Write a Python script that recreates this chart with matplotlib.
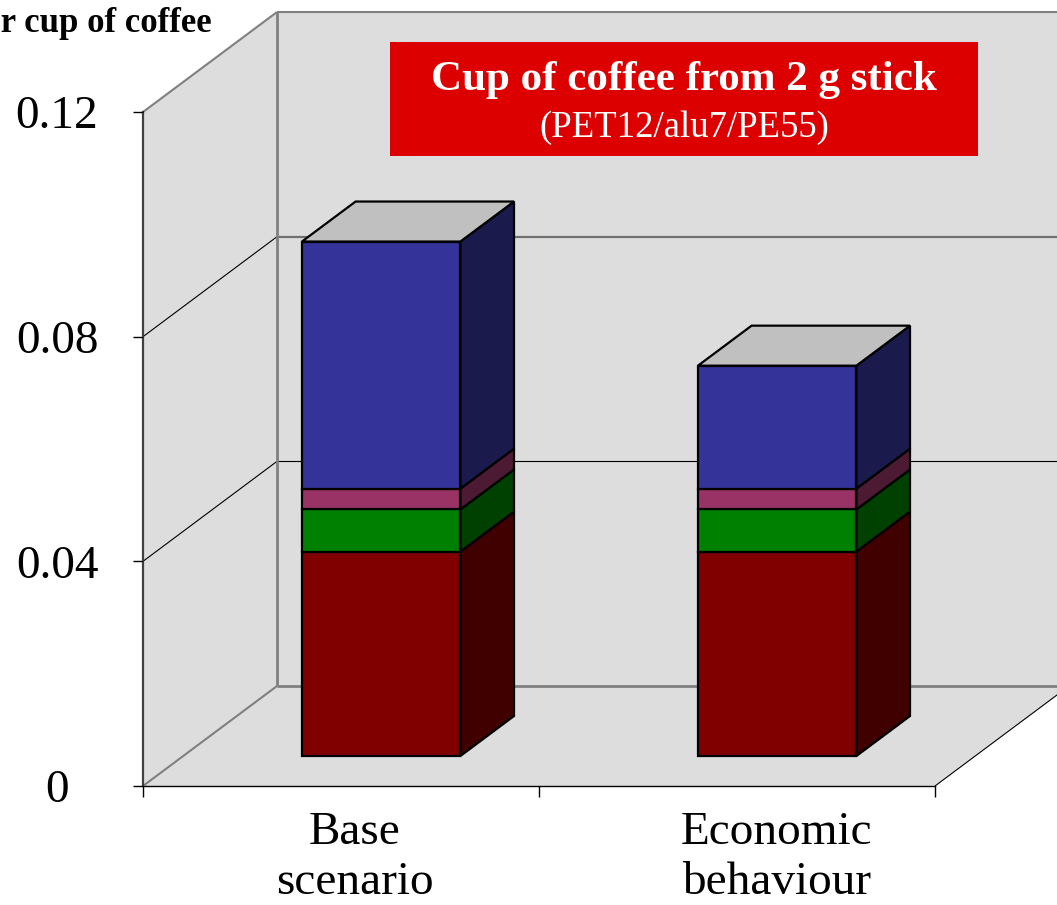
import matplotlib.pyplot as plt
from matplotlib.patches import Polygon, Rectangle

plt.rcParams['font.family'] = ['Liberation Serif', 'DejaVu Serif']

scenarios = ['Base\nscenario', 'Economic\nbehaviour']
# stacked contributions per scenario, bottom to top
red_part = [0.0364, 0.0364]
green_part = [0.0075, 0.0075]
pink_part = [0.0037, 0.0037]
blue_part = [0.0440, 0.0219]
stack = [red_part, green_part, pink_part, blue_part]

front_colors = ['#800000', '#008000', '#993366', '#333399']
side_colors = ['#400000', '#004000', '#4d1a33', '#1a1a4d']
top_color = '#c0c0c0'
wall_color = '#dddddd'
edge_gray = '#808080'

yticks = [0, 0.04, 0.08, 0.12]
ytick_labels = ['0', '0.04', '0.08', '0.12']

fig = plt.figure(figsize=(10.57, 9.05), dpi=100)
ax = fig.add_axes([143 / 1057, 119 / 905, 792 / 1057, 674 / 905])
ax.set_xlim(0, 2)
ax.set_ylim(0, 0.12)
ax.patch.set_visible(False)

# oblique depth vector expressed in front-plane data units
dx, dy = 0.3384, 0.0178
ymax = 0.12
xmax = 2


def proj(x, y, d):
    return (x + d * dx, y + d * dy)


def seg(p, q, **kw):
    ax.plot([p[0], q[0]], [p[1], q[1]], clip_on=False, solid_capstyle='butt', **kw)


# floor, side wall and back wall
ax.add_patch(Polygon([proj(0, 0, 0), proj(xmax, 0, 0), proj(xmax, 0, 1), proj(0, 0, 1)],
                     fc=wall_color, ec='none', clip_on=False, zorder=0.5))
ax.add_patch(Polygon([proj(0, 0, 0), proj(0, ymax, 0), proj(0, ymax, 1), proj(0, 0, 1)],
                     fc=wall_color, ec='none', clip_on=False, zorder=0.5))
ax.add_patch(Polygon([proj(0, 0, 1), proj(xmax, 0, 1), proj(xmax, ymax, 1), proj(0, ymax, 1)],
                     fc=wall_color, ec='none', clip_on=False, zorder=0.5))

# gridlines across side and back walls
grid_styles = {0.04: ('black', 0.8), 0.08: ('#707070', 1.6)}
for yv, (gc, glw) in grid_styles.items():
    seg(proj(0, yv, 0), proj(0, yv, 1), color='black', lw=0.8, zorder=0.7)
    seg(proj(0, yv, 1), proj(xmax, yv, 1), color=gc, lw=glw, zorder=0.7)

# wall outlines
seg(proj(0, ymax, 0), proj(0, ymax, 1), color=edge_gray, lw=1.5, zorder=0.8)
seg(proj(0, ymax, 1), proj(xmax, ymax, 1), color=edge_gray, lw=1.5, zorder=0.8)
seg(proj(0, 0, 1), proj(0, ymax, 1), color=edge_gray, lw=2.0, zorder=0.8)
seg(proj(0, 0, 1), proj(xmax, 0, 1), color=edge_gray, lw=2.0, zorder=0.8)
seg(proj(0, 0, 0), proj(0, 0, 1), color=edge_gray, lw=1.5, zorder=0.8)
seg(proj(xmax, 0, 0), proj(xmax, 0, 1), color='black', lw=0.8, zorder=0.8)

# 3d stacked bars
bar_w = 0.4
d_front, d_back = 0.3, 0.7
centers = [0.5, 1.5]
edge_kw = dict(ec='black', lw=1.6, joinstyle='miter', clip_on=False, zorder=3)
for i, c in enumerate(centers):
    xl, xr = c - bar_w / 2, c + bar_w / 2
    bottom = 0.0
    for k, part in enumerate(stack):
        top = bottom + part[i]
        ax.add_patch(Polygon([proj(xr, bottom, d_front), proj(xr, bottom, d_back),
                              proj(xr, top, d_back), proj(xr, top, d_front)],
                             fc=side_colors[k], **edge_kw))
        ax.add_patch(Polygon([proj(xl, bottom, d_front), proj(xr, bottom, d_front),
                              proj(xr, top, d_front), proj(xl, top, d_front)],
                             fc=front_colors[k], **edge_kw))
        bottom = top
    ax.add_patch(Polygon([proj(xl, bottom, d_front), proj(xr, bottom, d_front),
                          proj(xr, bottom, d_back), proj(xl, bottom, d_back)],
                         fc=top_color, **edge_kw))

# axes lines and ticks
for s in ['top', 'right']:
    ax.spines[s].set_visible(False)
ax.spines['left'].set_color('#404040')
ax.spines['left'].set_linewidth(1.6)
ax.spines['bottom'].set_color('black')
ax.spines['bottom'].set_linewidth(1.0)
for s in ax.spines.values():
    s.set_zorder(1)

ax.set_yticks(yticks, labels=ytick_labels)
ax.tick_params(axis='y', length=7.2, width=1, color='black', pad=54.7, labelsize=34)
for lab in ax.get_yticklabels():
    lab.set_horizontalalignment('center')

ax.set_xticks([0, 1, 2], labels=[])
ax.tick_params(axis='x', length=8, width=1, color='black')

label_shift = [0.035, 0.1]
for c, name, sh in zip(centers, scenarios, label_shift):
    ax.text(c + sh, -0.0045, name, ha='center', va='top', fontsize=34,
            linespacing=1.24, clip_on=False)

# header box
fig.add_artist(Rectangle((390 / 1057, 1 - 156 / 905), 588 / 1057, 114 / 905,
                         transform=fig.transFigure, fc='#dd0000', ec='none', zorder=5))
fig.text(684 / 1057, 1 - 80 / 905, 'Cup of coffee from 2 g stick', color='white',
         fontsize=31, fontweight='bold', ha='center', va='center', zorder=6)
fig.text(684 / 1057, 1 - 128 / 905, '(PET12/alu7/PE55)', color='white',
         fontsize=26.5, ha='center', va='center', zorder=6)

# value-axis caption, running off the left edge
fig.text(212 / 1057, 1 - 32 / 905, 'per cup of coffee', ha='right', va='baseline',
         fontsize=25, fontweight='bold')

fig.savefig('out.png', dpi=100)
